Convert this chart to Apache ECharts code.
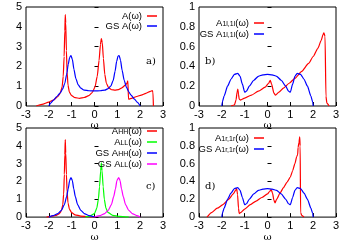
<!DOCTYPE html>
<html><head><meta charset="utf-8">
<script src="https://cdn.jsdelivr.net/npm/echarts@6/dist/echarts.min.js"></script>
<style>html,body{margin:0;padding:0;background:#fff}#c{width:346px;height:243px}</style>
</head><body><div id="c"></div>
<script>
// ---- data (omega, value) ----
const xTicks = [-3,-2,-1,0,1,2,3];
const aRed = [[-2.55,0],[-2.3,0.08],[-2.0,0.2],[-1.8,0.3],[-1.6,0.48],[-1.5,0.65],[-1.42,0.95],[-1.37,1.5],[-1.33,2.5],[-1.3,3.8],[-1.28,4.62],[-1.26,4.2],[-1.23,2.8],[-1.2,1.7],[-1.16,1.05],[-1.1,0.7],[-1.0,0.52],[-0.85,0.42],[-0.65,0.39],[-0.45,0.43],[-0.25,0.52],[-0.1,0.68],[0.02,0.95],[0.12,1.5],[0.2,2.3],[0.26,3.1],[0.3,3.4],[0.34,3.2],[0.39,2.4],[0.45,1.6],[0.52,1.15],[0.62,0.92],[0.75,0.82],[0.9,0.8],[1.05,0.83],[1.2,0.92],[1.35,1.05],[1.42,1.15],[1.46,1.27],[1.49,0.34],[1.65,0.4],[1.85,0.48],[2.05,0.55],[2.25,0.64],[2.45,0.74],[2.53,0.78],[2.56,0.7],[2.58,0]];
const aBlue = [[-2,0],[-1.92,0.15],[-1.8,0.3],[-1.65,0.48],[-1.5,0.66],[-1.4,0.85],[-1.3,1.15],[-1.22,1.6],[-1.15,2.1],[-1.09,2.45],[-1.03,2.55],[-0.97,2.35],[-0.9,1.85],[-0.82,1.4],[-0.72,1.08],[-0.6,0.9],[-0.45,0.8],[-0.25,0.77],[0,0.76],[0.25,0.77],[0.45,0.8],[0.6,0.88],[0.72,1.02],[0.82,1.3],[0.9,1.75],[0.97,2.25],[1.03,2.52],[1.08,2.55],[1.14,2.3],[1.21,1.8],[1.3,1.3],[1.4,0.95],[1.5,0.72],[1.6,0.55],[1.75,0.35],[1.88,0.18],[2,0]];
const bRed = [[-1.6,0],[-1.45,0.01],[-1.38,0.06],[-1.33,0.14],[-1.3,0.17],[-1.27,0.12],[-1.24,0.07],[-1.18,0.06],[-1.0,0.08],[-0.7,0.11],[-0.4,0.15],[-0.1,0.19],[0.05,0.23],[0.12,0.26],[0.18,0.22],[0.28,0.13],[0.35,0.11],[0.5,0.14],[0.7,0.18],[0.95,0.23],[1.2,0.28],[1.5,0.35],[1.8,0.43],[2.0,0.5],[2.2,0.58],[2.35,0.66],[2.43,0.72],[2.47,0.74],[2.52,0.7],[2.56,0.1],[2.6,0.03],[2.7,0]];
const gsBlue1 = [[-2,0],[-1.98,0.04],[-1.9,0.1],[-1.75,0.2],[-1.6,0.27],[-1.45,0.32],[-1.3,0.33],[-1.2,0.3],[-1.1,0.22],[-1.0,0.14],[-0.92,0.15],[-0.8,0.2],[-0.6,0.26],[-0.4,0.3],[-0.2,0.315],[0,0.32],[0.2,0.315],[0.4,0.3],[0.6,0.26],[0.8,0.2],[0.92,0.15],[1.0,0.14],[1.1,0.22],[1.2,0.3],[1.3,0.33],[1.45,0.32],[1.6,0.27],[1.75,0.2],[1.9,0.1],[1.98,0.04],[2,0]];
const cRed = [[-2.1,0],[-1.9,0.04],[-1.7,0.09],[-1.55,0.18],[-1.45,0.35],[-1.39,0.7],[-1.35,1.3],[-1.32,2.4],[-1.3,3.5],[-1.28,4.35],[-1.26,3.6],[-1.23,2.4],[-1.2,1.4],[-1.16,0.8],[-1.1,0.45],[-1.0,0.25],[-0.85,0.13],[-0.6,0.06],[-0.3,0.02],[0,0]];
const cBlue = [[-2,0],[-1.8,0.08],[-1.6,0.2],[-1.45,0.38],[-1.32,0.7],[-1.22,1.15],[-1.15,1.6],[-1.09,2.05],[-1.03,2.22],[-0.97,2.05],[-0.91,1.6],[-0.84,1.15],[-0.74,0.7],[-0.6,0.38],[-0.45,0.2],[-0.25,0.08],[0,0]];
const cGreen = [[-0.4,0],[-0.2,0.06],[0,0.2],[0.1,0.5],[0.17,1.0],[0.22,1.7],[0.27,2.6],[0.3,3.05],[0.33,2.6],[0.38,1.7],[0.43,1.0],[0.5,0.5],[0.6,0.25],[0.8,0.1],[1.1,0.04],[1.5,0]];
const cMag = [[0,0],[0.25,0.08],[0.45,0.2],[0.6,0.38],[0.74,0.7],[0.84,1.15],[0.92,1.6],[0.98,2.05],[1.06,2.22],[1.12,2.05],[1.18,1.6],[1.26,1.15],[1.36,0.7],[1.5,0.38],[1.65,0.2],[1.85,0.08],[2.0,0]];
const dRed = [[-2.65,0],[-2.45,0.05],[-2.2,0.1],[-1.95,0.14],[-1.7,0.2],[-1.5,0.26],[-1.4,0.3],[-1.35,0.32],[-1.31,0.25],[-1.27,0.1],[-1.24,0.04],[-1.18,0.05],[-1.0,0.09],[-0.75,0.14],[-0.5,0.18],[-0.25,0.22],[0,0.26],[0.1,0.29],[0.16,0.31],[0.22,0.27],[0.28,0.19],[0.33,0.16],[0.4,0.2],[0.55,0.27],[0.7,0.33],[0.85,0.39],[1.0,0.45],[1.1,0.52],[1.2,0.6],[1.28,0.68],[1.32,0.7],[1.34,0.78],[1.38,0.84],[1.41,0.9],[1.43,0.8],[1.45,0.05],[1.5,0.02],[1.6,0]];

const names = {
  aR:'A(ω)', aB:'GS A(ω)',
  bR:'A1l,1l(ω)', bB:'GS A1l,1l(ω)',
  cR:'AHH(ω)', cG:'ALL(ω)', cB:'GS AHH(ω)', cM:'GS ALL(ω)',
  dR:'A1r,1r(ω)', dB:'GS A1r,1r(ω)'
};
const richNames = {
  'A(ω)':'{n|A(ω)}', 'GS A(ω)':'{n|GS A(ω)}',
  'A1l,1l(ω)':'{n|A}{s|1l,1l}{n|(ω)}', 'GS A1l,1l(ω)':'{n|GS A}{s|1l,1l}{n|(ω)}',
  'AHH(ω)':'{n|A}{s|HH}{n|(ω)}', 'ALL(ω)':'{n|A}{s|LL}{n|(ω)}',
  'GS AHH(ω)':'{n|GS A}{s|HH}{n|(ω)}', 'GS ALL(ω)':'{n|GS A}{s|LL}{n|(ω)}',
  'A1r,1r(ω)':'{n|A}{s|1r,1r}{n|(ω)}', 'GS A1r,1r(ω)':'{n|GS A}{s|1r,1r}{n|(ω)}'
};

const FONT = 'Liberation Sans';
const grids = [
  {left:26, top:7, width:137, height:99},
  {left:199, top:7, width:137, height:99},
  {left:26, top:128, width:137, height:93},
  {left:199, top:128, width:137, height:93}
];
const yMax = [5,1,5,1];
const yInt = [1,0.2,1,0.2];
const nameGaps = [13,13,14,14];

const option = {
  animation:false,
  backgroundColor:'#fff',
  grid: grids.map(g=>Object.assign({show:true,borderColor:'#000',borderWidth:1,backgroundColor:'transparent'},g)),
  xAxis: grids.map((g,i)=>({
    type:'value', gridIndex:i, min:-3, max:3, interval:1,
    name:'ω', nameLocation:'middle', nameGap:nameGaps[i],
    nameTextStyle:{fontFamily:'DejaVu Serif', fontSize:10, color:'#000'},
    axisLine:{show:false}, splitLine:{show:false},
    axisTick:{show:true, inside:true, length:4, lineStyle:{color:'#000'}},
    axisLabel:{fontFamily:FONT, fontSize:11, color:'#000', margin:3}
  })),
  yAxis: grids.map((g,i)=>({
    type:'value', gridIndex:i, min:0, max:yMax[i], interval:yInt[i],
    axisLine:{show:false}, splitLine:{show:false},
    axisTick:{show:true, inside:true, length:4, lineStyle:{color:'#000'}},
    axisLabel:{fontFamily:FONT, fontSize:11, color:'#000', margin:4}
  })),
  legend: [
    {data:[names.aR,names.aB], right:189, top:11},
    {data:[names.bR,names.bB], right:82, top:17},
    {data:[names.cR,names.cG,names.cB,names.cM], right:189, top:125},
    {data:[names.dR,names.dB], right:82, top:132}
  ].map(l=>Object.assign({
    orient:'vertical', align:'right', icon:'rect', itemWidth:10, itemHeight:1.5,
    itemGap:0, padding:0, selectedMode:false,
    formatter:n=>richNames[n],
    textStyle:{fontFamily:FONT, fontSize:9.5, color:'#000', padding:[0,0,0,0],
      rich:{n:{fontFamily:FONT,fontSize:9.5,color:'#000',lineHeight:10},
            s:{fontFamily:FONT,fontSize:7,color:'#000',lineHeight:10,verticalAlign:'bottom',padding:[4,0,0,0]}}}
  },l)),
  graphic:[
    {type:'text', left:146, top:56, style:{text:'a)', font:'10px "DejaVu Serif"', fill:'#000'}},
    {type:'text', left:205, top:56, style:{text:'b)', font:'10px "DejaVu Serif"', fill:'#000'}},
    {type:'text', left:146, top:181, style:{text:'c)', font:'10px "DejaVu Serif"', fill:'#000'}},
    {type:'text', left:205, top:181, style:{text:'d)', font:'10px "DejaVu Serif"', fill:'#000'}}
  ],
  series: [
    {name:names.aR, data:aRed, xAxisIndex:0, yAxisIndex:0, color:'#ff0000'},
    {name:names.aB, data:aBlue, xAxisIndex:0, yAxisIndex:0, color:'#0000ff'},
    {name:names.bR, data:bRed, xAxisIndex:1, yAxisIndex:1, color:'#ff0000'},
    {name:names.bB, data:gsBlue1, xAxisIndex:1, yAxisIndex:1, color:'#0000ff'},
    {name:names.cR, data:cRed, xAxisIndex:2, yAxisIndex:2, color:'#ff0000'},
    {name:names.cG, data:cGreen, xAxisIndex:2, yAxisIndex:2, color:'#00ff00'},
    {name:names.cB, data:cBlue, xAxisIndex:2, yAxisIndex:2, color:'#0000ff'},
    {name:names.cM, data:cMag, xAxisIndex:2, yAxisIndex:2, color:'#ff00ff'},
    {name:names.dR, data:dRed, xAxisIndex:3, yAxisIndex:3, color:'#ff0000'},
    {name:names.dB, data:gsBlue1, xAxisIndex:3, yAxisIndex:3, color:'#0000ff'}
  ].map(s=>Object.assign({type:'line', showSymbol:false, symbol:'none', clip:true,
     smooth:0.2, smoothMonotone:'x', lineStyle:{width:1.2, color:s.color}, itemStyle:{color:s.color}},s))
};
const chart = echarts.init(document.getElementById('c'), null, {renderer:'canvas'});
chart.setOption(option);
</script></body></html>
